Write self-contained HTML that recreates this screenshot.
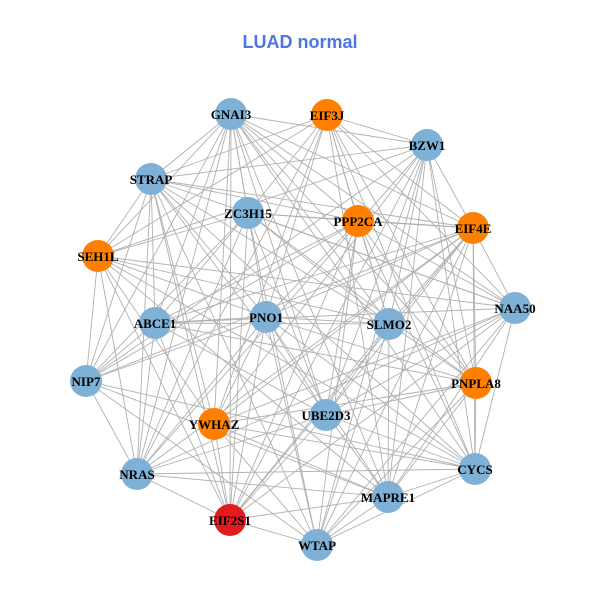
<!DOCTYPE html>
<html><head><meta charset="utf-8"><style>
html,body{margin:0;padding:0;background:#fff;}
svg{display:block}
</style></head><body>
<svg id="g" width="600" height="600" xmlns="http://www.w3.org/2000/svg">
<rect width="600" height="600" fill="#fff"/>
<text x="300" y="48" text-anchor="middle" font-family="Liberation Sans, sans-serif" font-weight="bold" font-size="18" fill="#4f74e3">LUAD normal</text>
<g id="edges" stroke="#b0b0b0" stroke-width="0.9"></g>
<g id="nodes"></g>
<g font-family="Liberation Serif, serif" font-weight="bold" font-size="13" fill="#000" text-anchor="middle">
<text x="231" y="119">GNAI3</text>
<text x="327" y="120">EIF3J</text>
<text x="427" y="150">BZW1</text>
<text x="151" y="184">STRAP</text>
<text x="248" y="218">ZC3H15</text>
<text x="358" y="226">PPP2CA</text>
<text x="473" y="233">EIF4E</text>
<text x="98" y="261">SEH1L</text>
<text x="515" y="313">NAA50</text>
<text x="155" y="328">ABCE1</text>
<text x="266" y="322">PNO1</text>
<text x="389" y="329">SLMO2</text>
<text x="86" y="386">NIP7</text>
<text x="476" y="388">PNPLA8</text>
<text x="214" y="429">YWHAZ</text>
<text x="326" y="420">UBE2D3</text>
<text x="137" y="479">NRAS</text>
<text x="475" y="474">CYCS</text>
<text x="388" y="502">MAPRE1</text>
<text x="230" y="525">EIF2S1</text>
<text x="317" y="550">WTAP</text>
</g>
</svg>
<script>
var N=[[231,114,'b'],[327,115,'o'],[427,145,'b'],[151,179,'b'],[248,213,'b'],[358,221,'o'],[473,228,'o'],[98,256,'o'],[515,308,'b'],[155,323,'b'],[266,317,'b'],[389,324,'b'],[86,381,'b'],[476,383,'o'],[214,424,'o'],[326,415,'b'],[137,474,'b'],[475,469,'b'],[388,497,'b'],[230,520,'r'],[317,545,'b']];
var C={b:'#7fb1d6',o:'#ff7f00',r:'#e41a1c'};
var ns='http://www.w3.org/2000/svg',E=document.getElementById('edges'),V=document.getElementById('nodes');
var s=7;
for(var i=0;i<N.length;i++)for(var j=i+1;j<N.length;j++){
 s=(s*1103515245+12345)%2147483648;
 if((s>>8)%10<8){var l=document.createElementNS(ns,'line');
 l.setAttribute('x1',N[i][0]);l.setAttribute('y1',N[i][1]);l.setAttribute('x2',N[j][0]);l.setAttribute('y2',N[j][1]);E.appendChild(l);}
}
N.forEach(function(n){var c=document.createElementNS(ns,'circle');c.setAttribute('cx',n[0]);c.setAttribute('cy',n[1]);c.setAttribute('r',16);c.setAttribute('fill',C[n[2]]);V.appendChild(c);});
</script>
</body></html>
